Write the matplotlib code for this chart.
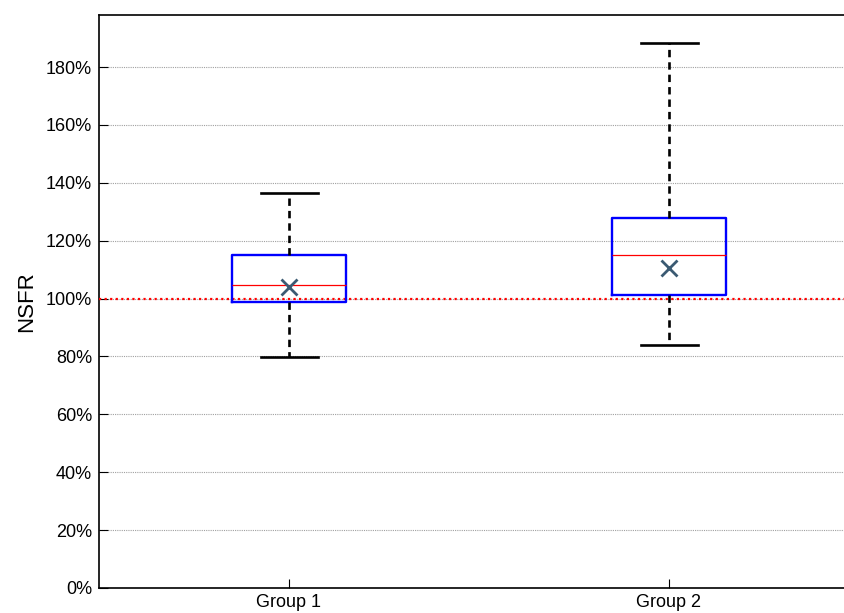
import matplotlib
matplotlib.use("Agg")
import matplotlib.pyplot as plt
from matplotlib.ticker import PercentFormatter

# values (fractions, 1.0 = 100%)
groups = ["Group 1", "Group 2"]
q1 = [0.987, 1.013]
medians = [1.046, 1.149]
q3 = [1.150, 1.280]
whislo = [0.799, 0.839]
whishi = [1.365, 1.883]
means = [1.041, 1.106]
threshold = 1.0
yticks = [0.0, 0.2, 0.4, 0.6, 0.8, 1.0, 1.2, 1.4, 1.6, 1.8]

plt.rcParams["font.family"] = ["Liberation Sans", "DejaVu Sans"]

fig = plt.figure(figsize=(8.45, 6.13), dpi=100)
# right edge of the axes runs past the image, as in the reference
ax = fig.add_axes([99 / 845, 25 / 613, 760 / 845, 573 / 613])

stats = [dict(label=g, q1=a, med=m, q3=b, whislo=lo, whishi=hi, mean=mu, fliers=[])
         for g, a, m, b, lo, hi, mu in zip(groups, q1, medians, q3, whislo, whishi, means)]

ax.axhline(threshold, color="red", lw=1.6, ls=(0, (1, 1.5)), zorder=3)

ax.bxp(stats, positions=[1, 2], widths=0.3, showmeans=True,
       boxprops=dict(color="#0000ff", lw=1.7),
       medianprops=dict(color="red", lw=0.9),
       whiskerprops=dict(color="black", lw=1.9, ls=(0, (2.8, 1.9))),
       capprops=dict(color="black", lw=1.9),
       capwidths=0.15,
       meanprops=dict(marker="x", markersize=12, markeredgewidth=2,
                      markeredgecolor="#3b5a72", markerfacecolor="none"),
       zorder=4)

ax.set_xlim(0.5, 2.5)
ax.set_ylim(0, 1.98)
ax.set_yticks(yticks)
ax.yaxis.set_major_formatter(PercentFormatter(xmax=1, decimals=0))
ax.set_xticks([1, 2])
ax.set_xticklabels(groups)
ax.tick_params(direction="in", length=6.5, width=0.8, labelsize=13,
               top=False, right=False, pad=5)
ax.tick_params(axis="x", pad=4)
ax.yaxis.grid(True, color="#a0a0a0", lw=0.8, ls=(0, (1, 1)))
ax.set_axisbelow(True)
ax.set_ylabel("NSFR", fontsize=16, labelpad=6)
for s in ax.spines.values():
    s.set_linewidth(1.2)
ax.spines["right"].set_visible(False)

fig.savefig("out.png", dpi=100)
